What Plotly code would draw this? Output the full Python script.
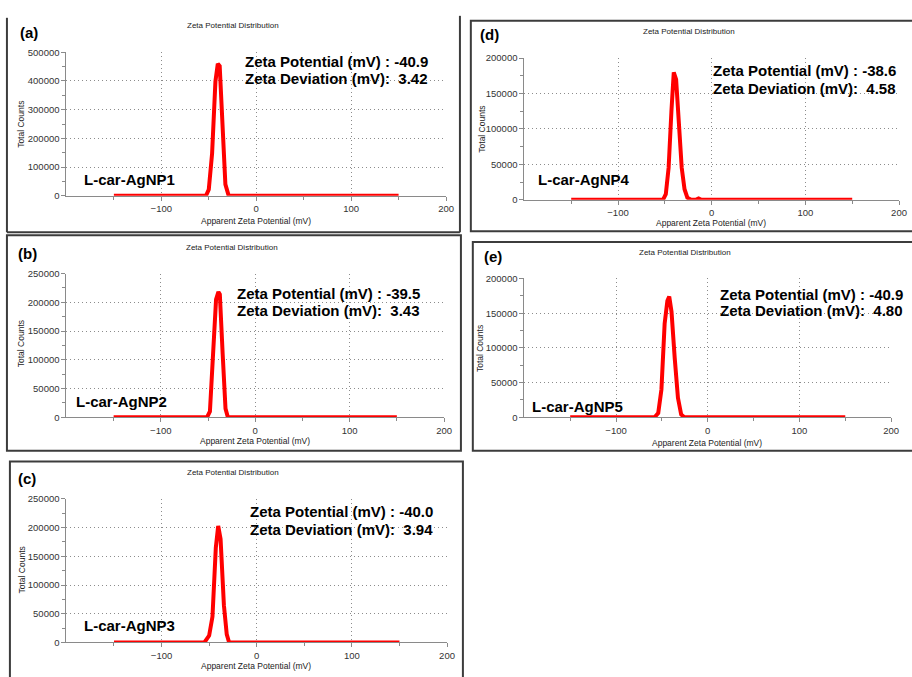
import plotly.graph_objects as go

W, H = 912, 677

# ---------------- data ----------------
x_a = [-150, -53, -50, -46.5, -43, -40.5, -38.5, -36, -32.5, -29, 150]
y_a = [0, 0, 22000, 148000, 398000, 460000, 452000, 262000, 40000, 0, 0]

x_b = [-150, -51, -48, -44.5, -41.5, -39, -37.5, -34.5, -31.5, -29, 150]
y_b = [0, 0, 10000, 110000, 205000, 218000, 214000, 110000, 15000, 0, 0]

x_c = [-150, -55, -50, -46.5, -43, -40.5, -38, -34.5, -31.5, -29, 150]
y_c = [0, 0, 12000, 45000, 165000, 203000, 180000, 65000, 14000, 0, 0]

x_d = [-150, -52, -49, -46, -43, -40.5, -38, -35, -32, -29, -26, -22, -17, -14, -11, 150]
y_d = [0, 0, 8000, 45000, 125000, 180000, 170000, 105000, 45000, 15000, 3000, 0, 0, 2000, 0, 0]

x_e = [-150, -58, -54, -50.5, -47, -44, -42, -39.5, -36, -32.5, -29, -25.5, 150]
y_e = [0, 0, 6000, 40000, 135000, 168000, 174000, 152000, 85000, 28000, 4000, 0, 0]

panel_labels = ["(a)", "(b)", "(c)", "(d)", "(e)"]
sample_names = ["L-car-AgNP1", "L-car-AgNP2", "L-car-AgNP3", "L-car-AgNP4", "L-car-AgNP5"]
zeta_potential = ["-40.9", "-39.5", "-40.0", "-38.6", "-40.9"]
zeta_deviation = ["3.42", "3.43", "3.94", "4.58", "4.80"]
y_max = [500000, 250000, 250000, 200000, 200000]
y_step = [100000, 50000, 50000, 50000, 50000]
x_ticks = [-100, 0, 100, 200]
x_minor = [-150, -50, 50, 150]
chart_title = "Zeta Potential Distribution"
x_title = "Apparent Zeta Potential (mV)"
y_title = "Total Counts"

xs = [x_a, x_b, x_c, x_d, x_e]
ys = [y_a, y_b, y_c, y_d, y_e]

# ---------------- layout geometry (pixels) ----------------
def px(x):
    return x / W

def py(y):
    return 1 - y / H

geo = [
    dict(pa=(67, 450, 47, 193), lab=(18, 27), tit=(235, 20), ann=(245, 56, 74), nm=(83, 176), xt=(258, 219), yt=(21, 120)),
    dict(pa=(67, 448, 272, 418), lab=(16, 252), tit=(234, 245), ann=(237, 292, 310), nm=(75, 402), xt=(257, 442), yt=(22, 343)),
    dict(pa=(67, 451, 501, 647), lab=(16, 480), tit=(235, 474), ann=(250, 514, 532), nm=(83, 630), xt=(258, 671), yt=(22, 573)),
    dict(pa=(529, 907, 53, 197), lab=(482, 29), tit=(695, 26), ann=(717, 66, 84), nm=(541, 176), xt=(717, 221), yt=(486, 125)),
    dict(pa=(529, 899, 277, 418), lab=(486, 255), tit=(691, 251), ann=(724, 293, 310), nm=(535, 407), xt=(713, 444), yt=(485, 348)),
]

FONT = "Liberation Sans, Arial, sans-serif"
AX_COL = "#8a8a8a"
GRID_COL = "#8c8c8c"
TXT_COL = "#333333"
DOT = "1px,3px"

fig = go.Figure()
annotations = []
layout_axes = {}

for i in range(5):
    n = i + 1
    xa = "x" if n == 1 else f"x{n}"
    ya = "y" if n == 1 else f"y{n}"
    fig.add_trace(go.Scatter(
        x=xs[i], y=ys[i], mode="lines", xaxis=xa, yaxis=ya,
        line=dict(color="#ff0000", width=4), cliponaxis=False,
        hoverinfo="skip", showlegend=False,
    ))
    g = geo[i]
    x0, x1, yt_, yb_ = g["pa"]
    xkey = "xaxis" if n == 1 else f"xaxis{n}"
    ykey = "yaxis" if n == 1 else f"yaxis{n}"
    layout_axes[xkey] = dict(
        domain=[px(x0), px(x1)], anchor=ya, range=[-200, 200],
        tickvals=x_ticks, ticks="outside", ticklen=4, tickcolor=AX_COL,
        showline=True, linecolor=AX_COL, linewidth=1,
        showgrid=True, gridcolor=GRID_COL, griddash=DOT, gridwidth=1,
        zeroline=False, tickfont=dict(family=FONT, size=9.5, color=TXT_COL),
        minor=dict(tickvals=x_minor, ticks="outside", ticklen=3, tickcolor=AX_COL, showgrid=False),
        fixedrange=True,
    )
    layout_axes[ykey] = dict(
        domain=[py(yb_), py(yt_)], anchor=xa, range=[0, y_max[i]],
        tick0=0, dtick=y_step[i], tickformat="d", ticks="outside", ticklen=4, tickcolor=AX_COL,
        showline=True, linecolor=AX_COL, linewidth=1,
        showgrid=True, gridcolor=GRID_COL, griddash=DOT, gridwidth=1,
        zeroline=False, tickfont=dict(family=FONT, size=9.5, color=TXT_COL),
        minor=dict(dtick=y_step[i] / 2, ticks="outside", ticklen=3, tickcolor=AX_COL, showgrid=False),
        fixedrange=True,
    )

    def ann(text, x, y, size, bold=False, xanchor="left", angle=0, color="#000"):
        annotations.append(dict(
            text=f"<b>{text}</b>" if bold else text, x=px(x), y=py(y),
            xref="paper", yref="paper", xanchor=xanchor, yanchor="middle",
            showarrow=False, textangle=angle,
            font=dict(family=FONT, size=size, color=color),
        ))

    ann(panel_labels[i], g["lab"][0], g["lab"][1], 15, bold=True)
    ann(chart_title, g["tit"][0], g["tit"][1], 8, xanchor="center", color="#222")
    ann(f"Zeta Potential (mV) : {zeta_potential[i]}", g["ann"][0], g["ann"][1], 15, bold=True)
    ann(f"Zeta Deviation (mV):  {zeta_deviation[i]}", g["ann"][0], g["ann"][2], 15, bold=True)
    ann(sample_names[i], g["nm"][0], g["nm"][1], 15, bold=True)
    ann(x_title, g["xt"][0], g["xt"][1], 8.5, xanchor="center", color="#222")
    ann(y_title, g["yt"][0], g["yt"][1], 8.5, xanchor="center", angle=-90, color="#222")

FR = dict(color="#3c3c3c", width=2)
shapes = [
    dict(type="line", xref="paper", yref="paper", x0=px(7), x1=px(7), y0=py(12), y1=py(230), line=FR),
    dict(type="line", xref="paper", yref="paper", x0=px(464), x1=px(464), y0=py(10), y1=py(230), line=FR),
    dict(type="line", xref="paper", yref="paper", x0=px(7), x1=px(464), y0=py(230), y1=py(230), line=FR),
    dict(type="rect", xref="paper", yref="paper", x0=px(7), x1=px(465), y0=py(452), y1=py(233), line=FR),
    dict(type="rect", xref="paper", yref="paper", x0=px(10), x1=px(467), y0=py(690), y1=py(463), line=FR),
    dict(type="rect", xref="paper", yref="paper", x0=px(475), x1=px(925), y0=py(229), y1=py(15), line=FR),
    dict(type="rect", xref="paper", yref="paper", x0=px(477), x1=px(925), y0=py(452), y1=py(240), line=FR),
]

fig.update_layout(
    width=W, height=H, margin=dict(l=0, r=0, t=0, b=0),
    paper_bgcolor="white", plot_bgcolor="white", showlegend=False,
    annotations=annotations, shapes=shapes, **layout_axes,
)

fig.write_html(
    "out.html",
    config={"displayModeBar": False, "staticPlot": True},
    post_script="document.body.style.margin='0';document.body.style.overflow='hidden';",
)
